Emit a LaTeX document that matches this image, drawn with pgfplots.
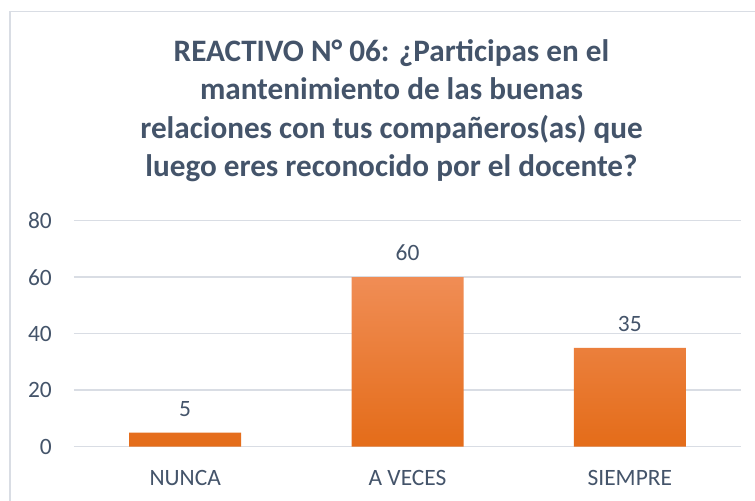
\documentclass[border=0pt]{standalone}
\usepackage{fontspec}
\setmainfont{Carlito}
\usepackage{pgfplots}
\pgfplotsset{compat=1.18}
\definecolor{txt}{HTML}{44546A}
\definecolor{gridc}{HTML}{D9DDE4}
\definecolor{otop}{HTML}{F08D55}
\definecolor{omid}{HTML}{F47F2B}
\definecolor{obot}{HTML}{E46C19}
\begin{document}
\begin{tikzpicture}[x=1bp,y=1bp]
% axis south west corner is at (0,0); image corner is at (-74,-54.3)
\useasboundingbox (-74,-54.3) rectangle (681,446.7);
\clip (-74,-54.3) rectangle (681,446.7);
\fill[white] (-74,-54.3) rectangle (681,446.7);
\draw[gridc, line width=1.5bp] (-64,-80) rectangle (700,435);
\begin{scope}[every node/.style={font=\bfseries\fontsize{31.3}{38}\selectfont, text=txt, anchor=base}]
\node at (317.5,385) {REACTIVO N° 06: ¿Participas en el};
\node at (317.5,346.7) {mantenimiento de las buenas};
\node at (317.5,308.2) {relaciones con tus compañeros(as) que};
\node at (317.5,270) {luego eres reconocido por el docente?};
\end{scope}
\begin{axis}[
  at={(0,0)}, anchor=south west,
  scale only axis, width=667bp, height=226bp,
  xmin=-0.5, xmax=2.5, ymin=0, ymax=80,
  ytick={0,20,40,60,80},
  xtick={0,1,2},
  xticklabels={NUNCA, A VECES, SIEMPRE},
  axis line style={draw=none},
  major tick length=0pt,
  ymajorgrids,
  grid style={gridc, line width=1.5bp},
  ybar, bar width=112bp,
  /pgf/number format/assume math mode=true,
  tick label style={font=\fontsize{23.5}{28}\selectfont, text=txt},
  yticklabel style={anchor=east, inner sep=0pt, xshift=-22bp},
  xticklabel style={anchor=base, inner sep=0pt, yshift=-39bp},
  nodes near coords,
  every node near coord/.append style={font=\fontsize{23.5}{28}\selectfont, text=txt, anchor=base, inner sep=0pt, yshift=16.5bp},
]
\addplot[draw=none, top color=otop, middle color=omid, bottom color=obot, bar shift=0pt] coordinates {(0,5) (1,60) (2,35)};
\end{axis}
\end{tikzpicture}
\end{document}
